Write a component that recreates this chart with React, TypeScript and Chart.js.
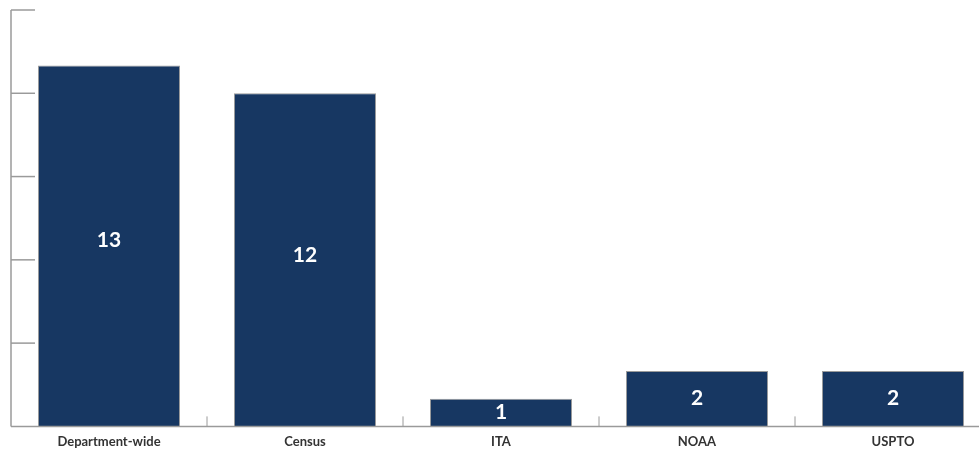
import React, { useEffect, useRef } from "react";
import { Chart, registerables } from "chart.js";

Chart.register(...registerables);

const categories = ["Department-wide", "Census", "ITA", "NOAA", "USPTO"];
const counts = [13, 12, 1, 2, 2];
const yMax = 15;
const yStep = 3;

const axisColor = "#9a9a9a";

const axesPlugin = {
  id: "customAxes",
  afterDatasetsDraw(chart: any) {
    const { ctx, chartArea, scales } = chart;
    const y = scales.y;
    const x = scales.x;
    ctx.save();
    ctx.strokeStyle = axisColor;
    ctx.lineWidth = 1.5;
    ctx.beginPath();
    ctx.moveTo(chartArea.left, y.getPixelForValue(yMax));
    ctx.lineTo(chartArea.left, y.getPixelForValue(0));
    ctx.stroke();
    y.ticks.forEach((t: any) => {
      if (t.value === 0) return;
      const py = y.getPixelForValue(t.value);
      ctx.beginPath();
      ctx.moveTo(chartArea.left, py);
      ctx.lineTo(chartArea.left + 24, py);
      ctx.stroke();
    });
    const by = y.getPixelForValue(0);
    ctx.beginPath();
    ctx.moveTo(chartArea.left, by);
    ctx.lineTo(chartArea.right, by);
    ctx.stroke();
    ctx.lineWidth = 1;
    for (let i = 0; i < categories.length - 1; i++) {
      const px = (x.getPixelForValue(i) + x.getPixelForValue(i + 1)) / 2;
      ctx.beginPath();
      ctx.moveTo(px, by);
      ctx.lineTo(px, by - 10);
      ctx.stroke();
    }
    const meta = chart.getDatasetMeta(0);
    ctx.fillStyle = "#ffffff";
    ctx.font = "bold 21px Lato, 'Open Sans', sans-serif";
    ctx.textAlign = "center";
    ctx.textBaseline = "middle";
    meta.data.forEach((bar: any, i: number) => {
      const cy = bar.y + 0.485 * (bar.base - bar.y);
      ctx.fillText(String(counts[i]), bar.x, cy);
    });
    ctx.restore();
  },
};

export default function App() {
  const ref = useRef<HTMLCanvasElement>(null);
  useEffect(() => {
    document.body.style.margin = "0";
    document.body.style.overflow = "hidden";
    const chart = new Chart(ref.current!, {
      type: "bar",
      data: {
        labels: categories,
        datasets: [
          {
            data: counts,
            backgroundColor: "#173762",
            borderColor: "#9a9a9a",
            borderWidth: 1,
            barPercentage: 0.725,
            categoryPercentage: 1,
          },
        ],
      },
      options: {
        animation: false,
        responsive: false,
        maintainAspectRatio: false,
        layout: { padding: { left: 11, right: 9, top: 10, bottom: -5 } },
        plugins: { legend: { display: false }, tooltip: { enabled: false } },
        scales: {
          x: {
            grid: { display: false, drawTicks: false },
            border: { display: false },
            ticks: {
              color: "#333333",
              font: { family: "Lato, 'Open Sans', sans-serif", size: 13, weight: "bold" },
              padding: 8,
              maxRotation: 0,
            },
          },
          y: {
            display: false,
            min: 0,
            max: yMax,
            ticks: { stepSize: yStep },
            grid: { display: false },
          },
        },
      },
      plugins: [axesPlugin],
    });
    return () => chart.destroy();
  }, []);
  return (
    <div style={{ width: 1000, height: 453 }}>
      <canvas ref={ref} width={1000} height={453} style={{ width: 1000, height: 453 }} />
    </div>
  );
}
